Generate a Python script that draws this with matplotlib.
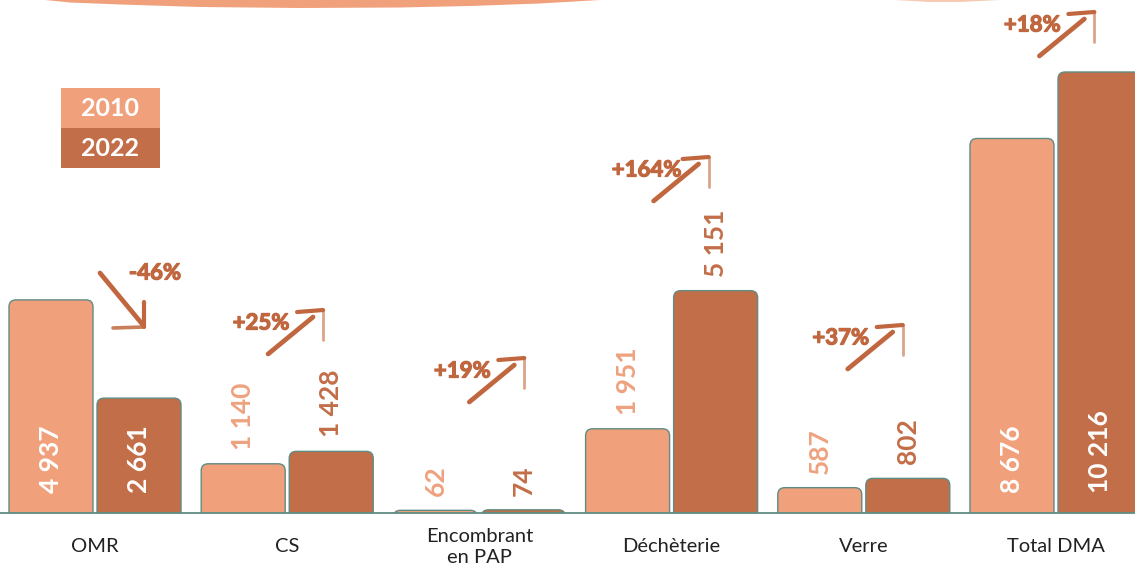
import numpy as np
import matplotlib
matplotlib.use("Agg")
import matplotlib.pyplot as plt
import matplotlib.patches as mpatches
import matplotlib.transforms as mtransforms
import matplotlib.patheffects as pe

# ---------------- data ----------------
categories = ["OMR", "CS", "Encombrant\nen PAP", "Déchèterie", "Verre", "Total DMA"]
series_names = ["2010", "2022"]
values_2010 = [4937, 1140, 62, 1951, 587, 8676]
values_2022 = [2661, 1428, 74, 5151, 802, 10216]
label_inside = [True, False, False, False, False, True]
# anchor of the percentage annotation: (offset from category, value level)
pct_anchor_dx = [0.312, -0.136, -0.089, -0.130, -0.120, -0.123]
pct_anchor_y = [5560, 4401, 3289, 7946, 4054, 11305]

# ---------------- style ----------------
C2010 = "#f1a07c"
C2022 = "#c26e48"
C2010_TXT = "#eea27f"
EDGE = "#5f8c84"
ARROW = "#c0673f"
FONT = ["Lato", "DejaVu Sans"]

plt.rcParams["font.family"] = FONT

W, H, DPI = 1135, 568, 100
fig = plt.figure(figsize=(W / DPI, H / DPI), dpi=DPI)
ax = fig.add_axes([0, 55 / H, 1, 513 / H])
ax.set_xlim(-0.4943, 5.411)
ax.set_ylim(0, 11884)
ax.axis("off")

x = np.arange(len(categories))
bw = 0.437
off = 0.229

# pixel -> data scale (for rounded corners)
xu_per_px = (5.411 + 0.4943) / W
yu_per_px = 11884 / 513
r_px = 7


def rounded_bar(xc, h, color):
    left = xc - bw / 2
    bottom = -15 * yu_per_px
    p = mpatches.FancyBboxPatch(
        (left, bottom), bw, h - bottom,
        boxstyle=mpatches.BoxStyle("Round", pad=0, rounding_size=r_px * xu_per_px),
        mutation_aspect=yu_per_px / xu_per_px,
        facecolor=color, edgecolor=EDGE, linewidth=1.0, zorder=2)
    ax.add_patch(p)


def fmt(v):
    return f"{v:,}".replace(",", " ")


for i in range(len(categories)):
    for xc, v, col, tcol in [(x[i] - off, values_2010[i], C2010, C2010_TXT),
                             (x[i] + off, values_2022[i], C2022, C2022)]:
        rounded_bar(xc, v, col)
        if label_inside[i]:
            ax.annotate(fmt(v), xy=(xc, 0), xytext=(0, 14.5), textcoords="offset points",
                        rotation=90, ha="center", va="bottom", color="white",
                        fontsize=19, fontweight="bold", zorder=4)
        else:
            ax.annotate(fmt(v), xy=(xc, v), xytext=(0, 10), textcoords="offset points",
                        rotation=90, ha="center", va="bottom", color=tcol,
                        fontsize=19, fontweight="bold", zorder=4)

ax.axhline(0, color=EDGE, lw=1.3, zorder=3, clip_on=False)

# category labels
for i, c in enumerate(categories):
    ax.annotate(c, xy=(x[i], 0), xytext=(0, -34 * 0.72), textcoords="offset points",
                ha="center", va="center", fontsize=14.5, color="#222222",
                linespacing=1.3, annotation_clip=False)

# legend boxes
leg_x0, leg_w, leg_h = 61, 99, 40
for j, (name, col) in enumerate(zip(series_names, [C2010, C2022])):
    y_top = 88 + j * leg_h
    rect = mpatches.Rectangle((leg_x0 / W, 1 - (y_top + leg_h) / H), leg_w / W, leg_h / H,
                              transform=fig.transFigure, facecolor=col, edgecolor="none")
    fig.patches.append(rect)
    fig.text((leg_x0 + leg_w / 2) / W, 1 - (y_top + leg_h / 2 + 1) / H, name,
             ha="center", va="center", color="white", fontsize=18, fontweight="bold")

# top decorative brush stroke (partial title ring)
top_x = np.array([45, 70, 120, 200, 300, 400, 470, 540, 600])
top_d = np.array([0, 2.5, 4.5, 7, 8, 7.5, 6, 3.5, 0])
poly = np.column_stack([np.r_[top_x, top_x[::-1]],
                        np.r_[H - top_d, np.full(len(top_x), H + 2)]])
fig.patches.append(mpatches.Polygon(poly / [W, H], closed=True, transform=fig.transFigure,
                                    facecolor=C2010, edgecolor="none"))
top_x2 = np.array([895, 930, 960, 1000])
top_d2 = np.array([0, 2, 2, 0])
poly2 = np.column_stack([np.r_[top_x2, top_x2[::-1]],
                         np.r_[H - top_d2, np.full(len(top_x2), H + 2)]])
fig.patches.append(mpatches.Polygon(poly2 / [W, H], closed=True, transform=fig.transFigure,
                                    facecolor="#f6c9b3", edgecolor="none"))

# percentage annotations with hand-drawn style arrows
fig.canvas.draw()
ident = mtransforms.IdentityTransform()


def seg(p0, p1, lw=3.2, alpha=1.0):
    ax.plot([p0[0], p1[0]], [p0[1], p1[1]], color=ARROW, lw=lw, alpha=alpha,
            solid_capstyle="round", transform=ident, clip_on=False, zorder=5)


for i in range(len(categories)):
    pct = (values_2022[i] / values_2010[i] - 1) * 100
    txt = f"{pct:+.0f}%"
    ax_x = x[i] + pct_anchor_dx[i]
    ax_y = pct_anchor_y[i]
    ax.text(ax_x, ax_y, txt, ha="center", va="center", color=ARROW,
            fontsize=16, fontweight="bold", zorder=5,
            path_effects=[pe.withStroke(linewidth=0.9, foreground=ARROW)])
    cx, cy = ax.transData.transform((ax_x, ax_y))

    def P(dx, dy):
        return (cx + dx, cy - dy)

    if pct < 0:
        seg(P(-55, 0), P(-12, 52), lw=3.4)
        seg(P(-11, 54), P(-11, 29), lw=3.0)
        seg(P(-11, 54), P(-42, 55), lw=2.6, alpha=0.85)
    else:
        seg(P(7, 31), P(52, -6), lw=3.4)
        seg(P(62, -13), P(36, -11), lw=3.0)
        seg(P(62, -13), P(62, 17), lw=2.0, alpha=0.6)

fig.savefig("out.png", dpi=DPI)
